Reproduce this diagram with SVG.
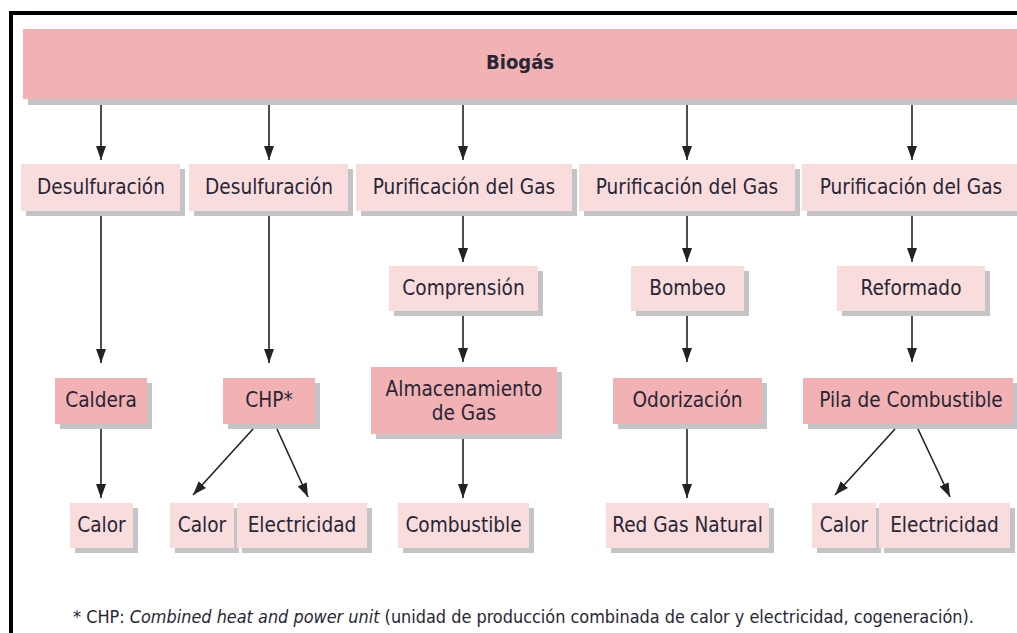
<svg xmlns="http://www.w3.org/2000/svg" width="1017" height="633" viewBox="0 0 1017 633">
<defs>
<style>
.sh{fill:#c3c3c8}
.lt{fill:#f9dcdc}
.dk{fill:#f2b2b3}
text{font-family:"DejaVu Sans Condensed","DejaVu Sans","Liberation Sans",sans-serif;font-size:20.6px;fill:#262636;text-anchor:middle}
.b{font-weight:bold;font-size:20px}
.fn{font-size:17.9px;text-anchor:start}
.c{stroke:#222;stroke-width:1.6;fill:none;marker-end:url(#ah)}
</style>
<marker id="ah" markerUnits="userSpaceOnUse" markerWidth="14" markerHeight="10" refX="14" refY="5" orient="auto">
<path d="M0,0 L14,5 L0,10 z" fill="#222"/>
</marker>
</defs>
<rect width="1017" height="633" fill="#fff"/>
<g id="frame" fill="#000">
<rect x="9" y="11" width="1008" height="4"/>
<rect x="9" y="11" width="4" height="622"/>
</g>
<g id="biogas"><rect class="sh" x="28" y="34" width="995" height="71"/><rect class="dk" x="23" y="29" width="995" height="70"/><text class="b" x="520" y="69">Biogás</text></g>
<g id="desulf1"><rect class="sh" x="26" y="169" width="159" height="47"/><rect class="lt" x="21" y="164" width="159" height="47"/><text x="101" y="194">Desulfuración</text></g>
<g id="desulf2"><rect class="sh" x="194" y="169" width="159" height="47"/><rect class="lt" x="189" y="164" width="159" height="47"/><text x="269" y="194">Desulfuración</text></g>
<g id="purif3"><rect class="sh" x="361" y="169" width="216" height="47"/><rect class="lt" x="356" y="164" width="216" height="47"/><text x="464" y="194">Purificación del Gas</text></g>
<g id="purif4"><rect class="sh" x="584" y="169" width="216" height="47"/><rect class="lt" x="579" y="164" width="216" height="47"/><text x="687" y="194">Purificación del Gas</text></g>
<g id="purif5"><rect class="sh" x="807" y="169" width="216" height="47"/><rect class="lt" x="802" y="164" width="216" height="47"/><text x="911" y="194">Purificación del Gas</text></g>
<g id="compresion"><rect class="sh" x="394" y="271" width="149" height="45"/><rect class="lt" x="389" y="266" width="149" height="45"/><text x="463.5" y="295">Comprensión</text></g>
<g id="bombeo"><rect class="sh" x="636" y="271" width="113" height="45"/><rect class="lt" x="631" y="266" width="113" height="45"/><text x="687.5" y="295">Bombeo</text></g>
<g id="reformado"><rect class="sh" x="842" y="271" width="148" height="45"/><rect class="lt" x="837" y="266" width="148" height="45"/><text x="911" y="295">Reformado</text></g>
<g id="caldera"><rect class="sh" x="60" y="383" width="92" height="46"/><rect class="dk" x="55" y="378" width="92" height="46"/><text x="101" y="407">Caldera</text></g>
<g id="chp"><rect class="sh" x="228" y="383" width="92" height="46"/><rect class="dk" x="223" y="378" width="92" height="46"/><text x="269" y="407">CHP*</text></g>
<g id="almacen"><rect class="sh" x="376" y="372" width="186" height="67"/><rect class="dk" x="371" y="367" width="186" height="67"/><text x="464" y="396">Almacenamiento</text><text x="464" y="420">de Gas</text></g>
<g id="odorizacion"><rect class="sh" x="618" y="383" width="149" height="46"/><rect class="dk" x="613" y="378" width="149" height="46"/><text x="687.5" y="407">Odorización</text></g>
<g id="pila"><rect class="sh" x="808" y="383" width="210" height="46"/><rect class="dk" x="803" y="378" width="210" height="46"/><text x="911" y="407">Pila de Combustible</text></g>
<g id="calor1"><rect class="sh" x="75" y="508" width="63" height="45"/><rect class="lt" x="70" y="503" width="63" height="45"/><text x="101.5" y="532">Calor</text></g>
<g id="calor2"><rect class="sh" x="175" y="508" width="64" height="45"/><rect class="lt" x="170" y="503" width="64" height="45"/><text x="202" y="532">Calor</text></g>
<g id="elec2"><rect class="sh" x="242" y="508" width="130" height="45"/><rect class="lt" x="237" y="503" width="130" height="45"/><text x="302" y="532">Electricidad</text></g>
<g id="combustible"><rect class="sh" x="403" y="508" width="131" height="45"/><rect class="lt" x="398" y="503" width="131" height="45"/><text x="463.5" y="532">Combustible</text></g>
<g id="redgas"><rect class="sh" x="611" y="508" width="163" height="45"/><rect class="lt" x="606" y="503" width="163" height="45"/><text x="687.5" y="532">Red Gas Natural</text></g>
<g id="calor5"><rect class="sh" x="817" y="508" width="64" height="45"/><rect class="lt" x="812" y="503" width="64" height="45"/><text x="844" y="532">Calor</text></g>
<g id="elec5"><rect class="sh" x="884" y="508" width="131" height="45"/><rect class="lt" x="879" y="503" width="131" height="45"/><text x="944.5" y="532">Electricidad</text></g>
<g id="connectors">
<line class="c" x1="101" y1="105" x2="101" y2="160"/>
<line class="c" x1="269" y1="105" x2="269" y2="160"/>
<line class="c" x1="463" y1="105" x2="463" y2="160"/>
<line class="c" x1="687" y1="105" x2="687" y2="160"/>
<line class="c" x1="912" y1="105" x2="912" y2="160"/>
<line class="c" x1="101" y1="216" x2="101" y2="363"/>
<line class="c" x1="269" y1="216" x2="269" y2="363"/>
<line class="c" x1="463" y1="216" x2="463" y2="262"/>
<line class="c" x1="687" y1="216" x2="687" y2="262"/>
<line class="c" x1="912" y1="216" x2="912" y2="262"/>
<line class="c" x1="463" y1="316" x2="463" y2="362"/>
<line class="c" x1="687" y1="316" x2="687" y2="362"/>
<line class="c" x1="912" y1="316" x2="912" y2="362"/>
<line class="c" x1="101" y1="429" x2="101" y2="498"/>
<line class="c" x1="463" y1="439" x2="463" y2="498"/>
<line class="c" x1="687" y1="429" x2="687" y2="498"/>
<line class="c" x1="253" y1="429" x2="193" y2="495"/>
<line class="c" x1="277" y1="429" x2="308" y2="497"/>
<line class="c" x1="895" y1="429" x2="835" y2="495"/>
<line class="c" x1="918" y1="429" x2="950" y2="497"/>
</g>
<text id="footnote" class="fn" x="73" y="623">* CHP: <tspan font-style="italic">Combined heat and power unit</tspan> (unidad de producción combinada de calor y electricidad, cogeneración).</text>
</svg>
